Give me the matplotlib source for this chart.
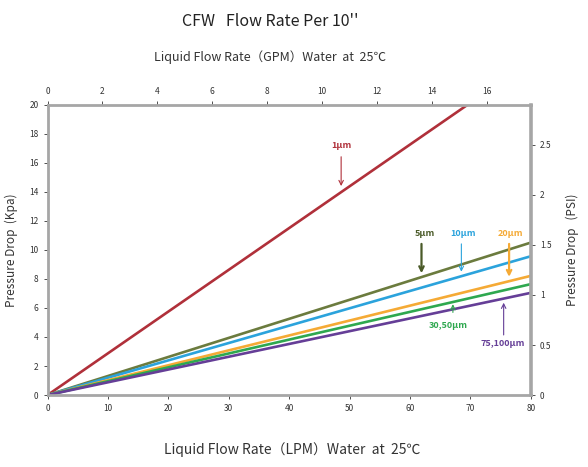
import numpy as np
import matplotlib
matplotlib.use('Agg')
import matplotlib.pyplot as plt

plt.rcParams['font.family'] = ['Noto Sans CJK SC', 'DejaVu Sans']

# flow in LPM, pressure drop in kPa (values at 0 and 80 LPM)
flow_lpm = [0, 80]
labels = ['1µm', '5µm', '10µm', '20µm', '30,50µm', '75,100µm']
drop_1um = [0, 23.0]
drop_5um = [0, 10.5]
drop_10um = [0, 9.56]
drop_20um = [0, 8.21]
drop_30_50um = [0, 7.64]
drop_75_100um = [0, 7.04]
colors = ['#b0303a', '#6b7b3e', '#2ba3dc', '#f5aa35', '#2ea84f', '#653e97']

# annotation: (text x, text y, arrow start y, arrow tip y, arrow x)
ann = {
    '1µm': (48.6, 17.2, 16.6, 14.2, 48.6),
    '5µm': (62.5, 11.15, 10.6, 8.2, 61.9),
    '10µm': (68.7, 11.15, 10.6, 8.3, 68.5),
    '20µm': (76.7, 11.15, 10.6, 7.95, 76.4),
    '30,50µm': (66.4, 4.8, 5.5, 6.45, 67.1),
    '75,100µm': (75.3, 3.55, 3.95, 6.55, 75.5),
}
ann_colors = ['#b0303a', '#4a5a28', '#2ba3dc', '#f5aa35', '#2ea84f', '#653e97']
ann_width = [0.8, 1.6, 0.8, 1.6, 0.8, 0.8]

kpa_per_psi = 6.894757
lpm_per_gpm = 4.54609

fig = plt.figure(figsize=(5.88, 4.67), dpi=100)
ax = fig.add_axes([0.0808, 0.154, 0.822, 0.622])

series = [drop_1um, drop_5um, drop_10um, drop_20um, drop_30_50um, drop_75_100um]
for ys, c in zip(series, colors):
    ax.plot(flow_lpm, ys, color=c, lw=1.9, solid_capstyle='butt')

for lab, c, w in zip(labels, ann_colors, ann_width):
    tx, ty, y0, y1, axx = ann[lab]
    ax.text(tx, ty, lab, color=c, fontsize=6.5, ha='center', va='center',
            fontweight='bold')
    ax.annotate('', xy=(axx, y1), xytext=(axx, y0),
                arrowprops=dict(arrowstyle='->', color=c, lw=w,
                                mutation_scale=8))

ax.set_xlim(0, 80)
ax.set_ylim(0, 20)
ax.set_xticks(np.arange(0, 81, 10))
ax.set_yticks(np.arange(0, 21, 2))

grey = '#a6a6a6'
for s in ax.spines.values():
    s.set_color(grey)
    s.set_linewidth(2.0)
ax.spines['right'].set_linewidth(2.6)

ax.tick_params(labelsize=6, colors='#333333', length=3, width=0.6)
for t in ax.get_xticklines() + ax.get_yticklines():
    t.set_color(grey)

top = ax.secondary_xaxis('top', functions=(lambda x: x / lpm_per_gpm,
                                           lambda x: x * lpm_per_gpm))
top.set_xticks(np.arange(0, 17, 2))
top.tick_params(labelsize=6, colors='#333333', length=3, width=0.6)
top.spines['top'].set_visible(False)

right = ax.secondary_yaxis('right', functions=(lambda y: y / kpa_per_psi,
                                               lambda y: y * kpa_per_psi))
right.set_yticks([0, 0.5, 1, 1.5, 2, 2.5])
right.set_yticklabels(['0', '0.5', '1', '1.5', '2', '2.5'])
right.tick_params(labelsize=6, colors='#333333', length=3, width=0.6)
right.spines['right'].set_visible(False)

ax.set_ylabel('Pressure Drop  (Kpa)', fontsize=8.5, color='#333333', labelpad=8)
right.set_ylabel('Pressure Drop   (PSI)', fontsize=8.5, color='#333333', labelpad=10)

fig.text(0.46, 0.955, "CFW   Flow Rate Per 10''", fontsize=11.5,
         ha='center', va='center', color='#222222', fontweight='medium')
fig.text(0.46, 0.877, 'Liquid Flow Rate（GPM）Water  at  25℃', fontsize=9,
         ha='center', va='center', color='#333333')
fig.text(0.497, 0.037, 'Liquid Flow Rate（LPM）Water  at  25℃', fontsize=10,
         ha='center', va='center', color='#333333')

fig.savefig('out.png', dpi=100)
